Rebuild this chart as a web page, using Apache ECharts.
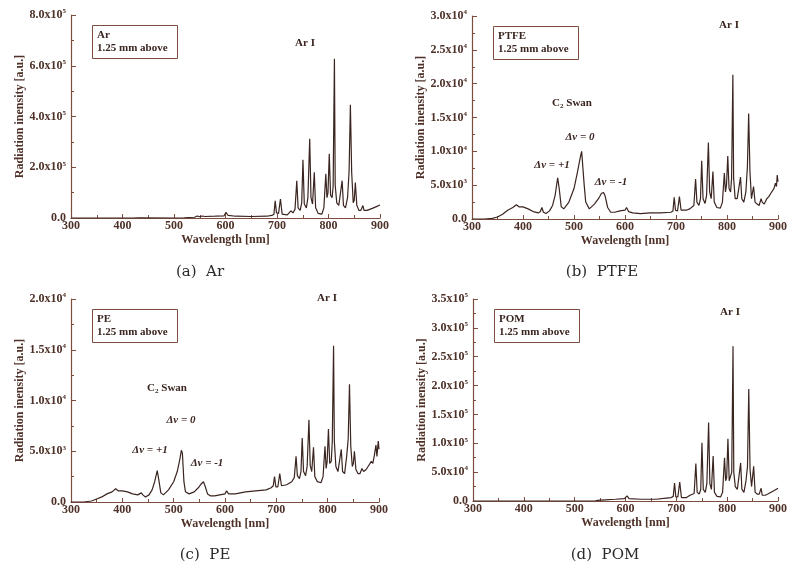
<!DOCTYPE html>
<html>
<head>
<meta charset="utf-8">
<title>Emission spectra</title>
<script src="https://cdn.jsdelivr.net/npm/echarts@6/dist/echarts.min.js"></script>
<style>
  html, body { margin: 0; padding: 0; background: #fff; }
  #main { width: 790px; height: 569px; }
</style>
</head>
<body>
<div id="main"></div>
<script>
// wavelength [nm] / intensity [a.u.]
const arSpectrum = [
  [300,0],[420,0],[432,0.005e5],[435,0.04e5],[438,0.005e5],[500,0],[520,0.01e5],[540,0.03e5],[545,0.08e5],
  [550,0.05e5],[555,0.08e5],[560,0.06e5],[580,0.07e5],[597,0.08e5],[601,0.22e5],[605,0.1e5],[620,0.07e5],
  [650,0.06e5],[680,0.07e5],[690,0.1e5],[694,0.15e5],[696.5,0.68e5],[699,0.2e5],[703,0.18e5],[706.7,0.75e5],
  [710,0.15e5],[720,0.12e5],[727,0.28e5],[731,0.2e5],[735,0.35e5],[738.4,1.47e5],[741,0.4e5],[745,0.3e5],
  [748,0.6e5],[750.4,2.29e5],[753,0.55e5],[757,0.4e5],[760,0.8e5],[763.5,3.12e5],[766,0.8e5],[769,0.55e5],
  [772.4,1.8e5],[775,0.4e5],[780,0.18e5],[787,0.15e5],[791,0.4e5],[794.8,1.74e5],[797,0.8e5],[799,1.0e5],
  [801.5,2.53e5],[804,0.9e5],[807,0.8e5],[809,1.25e5],[811.5,6.28e5],[813,1.3e5],[816,0.6e5],[820,0.5e5],
  [823,0.45e5],[826.5,1.47e5],[829,0.5e5],[833,0.4e5],[837,0.8e5],[840,1.85e5],[842.5,4.46e5],[845,1.8e5],
  [848,0.6e5],[850,0.7e5],[852.1,1.4e5],[855,0.5e5],[859,0.3e5],[863,0.3e5],[866.8,0.49e5],[869,0.3e5],
  [875,0.3e5],[885,0.38e5],[893,0.45e5],[900,0.51e5]
];

const ptfeSpectrum = [
  [300,0],[325,0],[340,0.01e4],[350,0.03e4],[360,0.07e4],[370,0.13e4],[380,0.17e4],[387,0.21e4],[392,0.18e4],
  [400,0.18e4],[410,0.15e4],[420,0.11e4],[430,0.09e4],[434,0.11e4],[437,0.17e4],[440,0.1e4],[445,0.08e4],
  [452,0.12e4],[458,0.2e4],[463,0.35e4],[468,0.61e4],[471,0.45e4],[475,0.18e4],[480,0.15e4],[490,0.25e4],
  [500,0.45e4],[507,0.7e4],[512,0.9e4],[515,1.0e4],[517,0.98e4],[520,0.5e4],[523,0.25e4],[530,0.15e4],
  [540,0.22e4],[548,0.3e4],[554,0.38e4],[558,0.39e4],[561,0.34e4],[563,0.35e4],[566,0.17e4],[572,0.1e4],
  [580,0.1e4],[590,0.12e4],[600,0.13e4],[603,0.17e4],[607,0.11e4],[615,0.09e4],[630,0.08e4],[650,0.09e4],
  [670,0.09e4],[690,0.1e4],[694,0.12e4],[696.5,0.32e4],[699,0.13e4],[703,0.12e4],[706.7,0.33e4],[710,0.13e4],
  [720,0.13e4],[727,0.15e4],[735,0.2e4],[738.4,0.59e4],[741,0.25e4],[745,0.2e4],[748,0.3e4],[750.4,0.86e4],
  [753,0.3e4],[757,0.23e4],[760,0.35e4],[763.5,1.13e4],[766,0.4e4],[769,0.3e4],[772.4,0.7e4],[775,0.25e4],
  [780,0.17e4],[787,0.16e4],[791,0.25e4],[794.8,0.68e4],[797,0.4e4],[799,0.5e4],[801.5,0.93e4],[804,0.45e4],
  [807,0.4e4],[809,0.6e4],[811.5,2.13e4],[813,0.6e4],[816,0.3e4],[820,0.3e4],[823,0.28e4],[826.5,0.62e4],
  [829,0.3e4],[833,0.25e4],[837,0.4e4],[840,0.77e4],[842.5,1.56e4],[845,0.7e4],[848,0.3e4],[850,0.32e4],
  [852.1,0.48e4],[855,0.25e4],[859,0.22e4],[863,0.2e4],[866.8,0.3e4],[869,0.25e4],[873,0.22e4],[878,0.3e4],
  [882,0.33e4],[886,0.38e4],[889,0.36e4],[892,0.45e4],[895,0.53e4],[897,0.48e4],[898.5,0.65e4],[900,0.55e4]
];

const peSpectrum = [
  [300,0],[325,0],[340,0.01e4],[350,0.03e4],[360,0.05e4],[370,0.08e4],[380,0.1e4],[387,0.13e4],[392,0.11e4],
  [400,0.11e4],[410,0.1e4],[420,0.08e4],[430,0.07e4],[437,0.09e4],[440,0.07e4],[445,0.05e4],[452,0.07e4],
  [458,0.12e4],[463,0.2e4],[468,0.31e4],[471,0.22e4],[475,0.09e4],[480,0.07e4],[490,0.12e4],[500,0.2e4],
  [507,0.3e4],[512,0.42e4],[515,0.51e4],[517,0.48e4],[520,0.2e4],[523,0.1e4],[530,0.08e4],[540,0.1e4],
  [548,0.14e4],[554,0.18e4],[558,0.2e4],[561,0.16e4],[563,0.17e4],[566,0.08e4],[572,0.06e4],[580,0.06e4],
  [590,0.07e4],[600,0.08e4],[603,0.11e4],[607,0.08e4],[620,0.08e4],[640,0.1e4],[660,0.11e4],[680,0.12e4],
  [690,0.14e4],[694,0.16e4],[696.5,0.25e4],[699,0.15e4],[703,0.15e4],[706.7,0.28e4],[710,0.16e4],[720,0.17e4],
  [730,0.2e4],[735,0.24e4],[738.4,0.45e4],[741,0.26e4],[745,0.23e4],[748,0.3e4],[750.4,0.63e4],[753,0.3e4],
  [757,0.26e4],[760,0.35e4],[763.5,0.81e4],[766,0.36e4],[769,0.3e4],[772.4,0.54e4],[775,0.25e4],[780,0.2e4],
  [787,0.19e4],[791,0.25e4],[794.8,0.55e4],[797,0.33e4],[799,0.4e4],[801.5,0.72e4],[804,0.38e4],[807,0.4e4],
  [809,0.6e4],[811.5,1.54e4],[813,0.6e4],[816,0.35e4],[820,0.3e4],[823,0.3e4],[826.5,0.52e4],[829,0.3e4],
  [833,0.28e4],[837,0.45e4],[840,0.62e4],[842.5,1.16e4],[845,0.55e4],[848,0.35e4],[850,0.38e4],[852.1,0.5e4],
  [855,0.32e4],[859,0.28e4],[863,0.28e4],[866.8,0.33e4],[870,0.3e4],[875,0.32e4],[880,0.36e4],[885,0.4e4],
  [888,0.38e4],[891,0.46e4],[894,0.56e4],[896,0.45e4],[898.5,0.6e4],[900,0.52e4]
];

const pomSpectrum = [
  [300,0],[540,0],[545,0.01e5],[560,0.02e5],[580,0.03e5],[598,0.04e5],[603,0.09e5],[607,0.04e5],[630,0.03e5],
  [660,0.03e5],[680,0.05e5],[690,0.06e5],[694,0.08e5],[696.5,0.31e5],[699,0.07e5],[703,0.07e5],[706.7,0.33e5],
  [710,0.06e5],[720,0.06e5],[727,0.1e5],[735,0.13e5],[738.4,0.65e5],[741,0.15e5],[745,0.12e5],[748,0.2e5],
  [750.4,1.01e5],[753,0.2e5],[757,0.15e5],[760,0.3e5],[763.5,1.36e5],[766,0.3e5],[769,0.2e5],[772.4,0.78e5],
  [775,0.15e5],[780,0.08e5],[787,0.07e5],[791,0.15e5],[794.8,0.75e5],[797,0.35e5],[799,0.4e5],[801.5,1.08e5],
  [804,0.35e5],[807,0.35e5],[809,0.5e5],[811.5,2.68e5],[813,0.5e5],[816,0.25e5],[820,0.2e5],[823,0.2e5],
  [826.5,0.66e5],[829,0.2e5],[833,0.15e5],[837,0.35e5],[840,0.6e5],[842.5,1.94e5],[845,0.55e5],[848,0.25e5],
  [850,0.28e5],[852.1,0.6e5],[855,0.15e5],[859,0.12e5],[863,0.12e5],[866.8,0.22e5],[869,0.1e5],[875,0.1e5],
  [880,0.12e5],[890,0.17e5],[900,0.22e5]
];

const yMaxes = [8e5, 3e4, 2e4, 3.5e5];
const yIntervals = [2e5, 5e3, 5e3, 5e4];
const sampleNames = ['Ar', 'PTFE', 'PE', 'POM'];
const captions = ['(a)  Ar', '(b)  PTFE', '(c)  PE', '(d)  POM'];

const serif = '"Liberation Serif", "Times New Roman", serif';
const axisColor = '#7d4e3e';
const textColor = '#4e3128';
const lineColor = '#3a2520';

// plot areas in px
const grids = [
  { left: 71, top: 15, width: 309, height: 203 },
  { left: 472, top: 16, width: 310, height: 203 },
  { left: 71, top: 299, width: 308, height: 203 },
  { left: 473, top: 299, width: 309, height: 202 }
];

function sciLabel(v) {
  if (v === 0) return '{m|0.0}';
  const e = Math.floor(Math.log10(v) + 1e-9);
  const m = v / Math.pow(10, e);
  return '{m|' + m.toFixed(1) + 'x10}{e|' + e + '}';
}

const labelRich = {
  m: { fontFamily: serif, fontSize: 12, fontWeight: 'bold', color: textColor, lineHeight: 14 },
  e: { fontFamily: serif, fontSize: 7, fontWeight: 'bold', color: textColor, verticalAlign: 'top', lineHeight: 14 }
};

const chart = echarts.init(document.getElementById('main'), null, { renderer: 'canvas' });

const xAxis = grids.map((g, i) => ({
  type: 'value', gridIndex: i, min: 300, max: 900, interval: 100,
  name: 'Wavelength [nm]', nameLocation: 'middle', nameGap: 16,
  nameTextStyle: { fontFamily: serif, fontSize: 12, fontWeight: 'bold', color: textColor },
  axisLine: { lineStyle: { color: axisColor, width: 1.2 } },
  axisTick: { inside: true, length: 4, lineStyle: { color: axisColor } },
  minorTick: { show: true, splitNumber: 2, length: 3, lineStyle: { color: axisColor } },
  splitLine: { show: false },
  axisLabel: { margin: 2, fontFamily: serif, fontSize: 12, fontWeight: 'bold', color: textColor }
}));

const yAxis = grids.map((g, i) => ({
  type: 'value', gridIndex: i, min: 0, max: yMaxes[i], interval: yIntervals[i],
  name: 'Radiation inensity [a.u.]', nameLocation: 'middle', nameGap: 45,
  nameTextStyle: { fontFamily: serif, fontSize: 12, fontWeight: 'bold', color: textColor },
  axisLine: { show: true, lineStyle: { color: axisColor, width: 1.2 } },
  axisTick: { show: true, inside: true, length: 5, lineStyle: { color: axisColor } },
  minorTick: { show: true, splitNumber: 2, length: 3, lineStyle: { color: axisColor } },
  splitLine: { show: false },
  axisLabel: { margin: 5, formatter: sciLabel, rich: labelRich }
}));

const spectra = [arSpectrum, ptfeSpectrum, peSpectrum, pomSpectrum];
const series = spectra.map((d, i) => ({
  type: 'line', xAxisIndex: i, yAxisIndex: i, data: d,
  showSymbol: false, symbol: 'none', smooth: false, silent: true,
  lineStyle: { color: lineColor, width: 1.2 }
}));

// sample boxes top-left of each panel
const boxes = grids.map((g, i) => ({
  text: sampleNames[i] + '\n1.25 mm above',
  left: g.left + 21, top: g.top + 10,
  borderColor: axisColor, borderWidth: 1, padding: [4, 10, 4, 5],
  textStyle: { fontFamily: serif, fontSize: 11, fontWeight: 'bold', color: '#3a2520', lineHeight: 13 }
}));

function label(x, y, text, extra) {
  return Object.assign({
    type: 'text', x: x, y: y, silent: true,
    style: {
      text: text, fill: '#3a2520', align: 'center', verticalAlign: 'middle',
      fontFamily: serif, fontSize: 11, fontWeight: 'bold'
    }
  }, extra || {});
}

const swanRich = {
  n: { fontFamily: serif, fontSize: 11, fontWeight: 'bold', fill: '#3a2520' },
  s: { fontFamily: serif, fontSize: 7, fontWeight: 'bold', fill: '#3a2520', verticalAlign: 'bottom', padding: [6, 0, 0, 0] }
};
function swan(x, y) {
  const el = label(x, y, '{n|C}{s|2}{n| Swan}');
  el.style.rich = swanRich;
  return el;
}
function dv(x, y, t) {
  const el = label(x, y, 'Δν = ' + t);
  el.style.fontStyle = 'italic';
  return el;
}

const graphics = [
  label(305, 43, 'Ar I'),
  label(729, 25, 'Ar I'),
  label(327, 298, 'Ar I'),
  label(730, 312, 'Ar I'),
  swan(572, 103), dv(580, 137, '0'), dv(552, 165, '+1'), dv(611, 182, '-1'),
  swan(167, 388), dv(181, 420, '0'), dv(150, 450, '+1'), dv(207, 463, '-1')
];
const capPos = [[200, 272], [602, 272], [205, 555], [605, 555]];
captions.forEach((c, i) => {
  graphics.push({
    type: 'text', x: capPos[i][0], y: capPos[i][1], silent: true,
    style: { text: c, fill: '#2a2a2a', align: 'center', verticalAlign: 'middle',
      fontFamily: 'DejaVu Serif', fontSize: 15 }
  });
});

chart.setOption({
  backgroundColor: '#fff',
  animation: false,
  title: boxes,
  grid: grids,
  xAxis: xAxis,
  yAxis: yAxis,
  series: series,
  graphic: graphics
});
</script>
</body>
</html>
